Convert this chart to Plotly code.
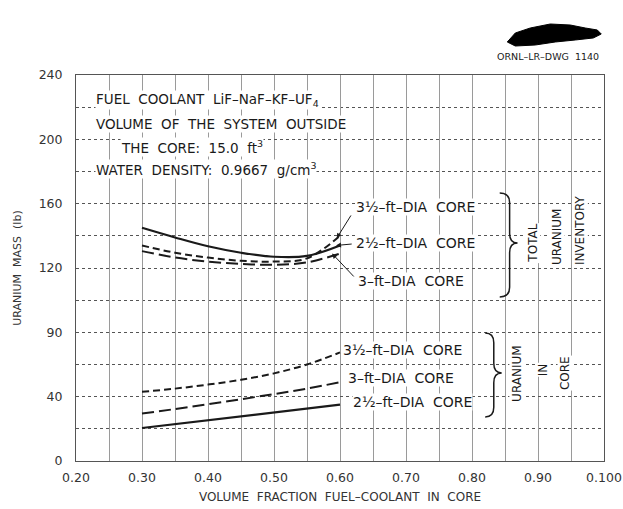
import plotly.graph_objects as go

# ---- data ----
x_total = [0.30, 0.35, 0.40, 0.45, 0.50, 0.55, 0.60]
total_2_5 = [145, 139, 133.5, 129.5, 127, 127.5, 134]
total_3_5 = [134, 129.5, 126.5, 124.5, 124, 126, 140]
total_3_0 = [130.5, 126.5, 124, 122.5, 122, 123.5, 129]

x_core = [0.30, 0.35, 0.40, 0.45, 0.50, 0.55, 0.60]
core_2_5 = [20.5, 22.9, 25.3, 27.7, 30.2, 32.6, 35]
core_3_0 = [29.5, 32.3, 35.3, 38.4, 41.6, 45, 49]
core_3_5 = [43, 45, 47.5, 50.5, 54.5, 60, 67.5]

x_tickvals = [0.2, 0.3, 0.4, 0.5, 0.6, 0.7, 0.8, 0.9, 1.0]
x_ticktext = ["0.20", "0.30", "0.40", "0.50", "0.60", "0.70", "0.80", "0.90", "0.100"]
y_tickvals = [0, 40, 80, 120, 160, 200, 240]
y_ticktext = ["0", "40", "90", "120", "160", "200", "240"]

FONT = "DejaVu Sans"
INK = "#1a1a1a"

fig = go.Figure()
line_kw = dict(mode="lines", showlegend=False, hoverinfo="skip")
fig.add_trace(go.Scatter(x=x_total, y=total_2_5, line=dict(color=INK, width=2.2, shape="spline"), **line_kw))
fig.add_trace(go.Scatter(x=x_total, y=total_3_5, line=dict(color=INK, width=2, dash="7px,4px", shape="spline"), **line_kw))
fig.add_trace(go.Scatter(x=x_total, y=total_3_0, line=dict(color=INK, width=2, dash="12px,5px", shape="spline"), **line_kw))
fig.add_trace(go.Scatter(x=x_core, y=core_2_5, line=dict(color=INK, width=2.2), **line_kw))
fig.add_trace(go.Scatter(x=x_core, y=core_3_0, line=dict(color=INK, width=2, dash="12px,5px", shape="spline"), **line_kw))
fig.add_trace(go.Scatter(x=x_core, y=core_3_5, line=dict(color=INK, width=2, dash="7px,4px", shape="spline"), **line_kw))

ann = []
def txt(x, y, s, size=14, xanchor="left", angle=0, bg="white", xref="x", yref="y"):
    ann.append(dict(x=x, y=y, xref=xref, yref=yref, text=s, showarrow=False,
                    xanchor=xanchor, yanchor="middle", textangle=angle,
                    font=dict(family=FONT, size=size, color=INK), bgcolor=bg, borderpad=0))

def arrow(tx, ty, hx, hy):
    ann.append(dict(x=hx, y=hy, ax=tx, ay=ty, xref="x", yref="y", axref="x", ayref="y",
                    text="", showarrow=True, arrowhead=2, arrowsize=1, arrowwidth=1,
                    arrowcolor=INK))

# info block
txt(0.229, 224.5, "FUEL  COOLANT  LiF\u2013NaF\u2013KF\u2013UF<sub>4</sub>", size=13.5)
txt(0.229, 209.6, "VOLUME  OF  THE  SYSTEM  OUTSIDE", size=13.5)
txt(0.375, 195.3, "THE  CORE:  15.0  ft<sup>3</sup>", size=13.5, xanchor="center")
txt(0.229, 181.6, "WATER  DENSITY:  0.9667  g/cm<sup>3</sup>", size=13.5)

# upper curve labels
txt(0.623, 158, "3\u00bd\u2013ft\u2013DIA  CORE")
txt(0.623, 135.6, "2\u00bd\u2013ft\u2013DIA  CORE")
txt(0.626, 112, "3\u2013ft\u2013DIA  CORE")
arrow(0.618, 153.6, 0.595, 138.5)
arrow(0.620, 135.0, 0.594, 134.0)
arrow(0.623, 113.8, 0.588, 129.0)

# lower curve labels
txt(0.603, 69, "3\u00bd\u2013ft\u2013DIA  CORE")
txt(0.611, 51.6, "3\u2013ft\u2013DIA  CORE")
txt(0.618, 36.7, "2\u00bd\u2013ft\u2013DIA  CORE")

# vertical group labels
txt(0.892, 135.6, "TOTAL", size=12, xanchor="center", angle=-90)
txt(0.929, 139.3, "URANIUM", size=12, xanchor="center", angle=-90)
txt(0.964, 143.7, "INVENTORY", size=12, xanchor="center", angle=-90)
txt(0.868, 54.7, "URANIUM", size=12, xanchor="center", angle=-90)
txt(0.908, 56.6, "IN", size=12, xanchor="center", angle=-90)
txt(0.941, 54.7, "CORE", size=12, xanchor="center", angle=-90)

# drawing number
txt(0.894, 1.047, "ORNL\u2013LR\u2013DWG  1140", size=9.5, xanchor="center", bg="rgba(0,0,0,0)",
    xref="paper", yref="paper")

def brace(x0, x1, xt, ytop, ymid, ybot, d):
    return (f"M {x0},{ytop} Q {x1},{ytop} {x1},{ytop-d} L {x1},{ymid+d} "
            f"Q {x1},{ymid} {xt},{ymid} Q {x1},{ymid} {x1},{ymid-d} "
            f"L {x1},{ybot+d} Q {x1},{ybot} {x0},{ybot}")

shapes = [
    dict(type="path", xref="x", yref="y", path=brace(0.842, 0.857, 0.869, 166.7, 135.5, 102, 6),
         line=dict(color=INK, width=1.5)),
    dict(type="path", xref="x", yref="y", path=brace(0.820, 0.833, 0.845, 79.6, 54.7, 27.4, 6),
         line=dict(color=INK, width=1.5)),
]
blob = [(0.8068, 1.0855), (0.8220, 1.1088), (0.8504, 1.1218), (0.8883, 1.1321), (0.9261, 1.1295),
        (0.9545, 1.1218), (0.9773, 1.1166), (0.9848, 1.1062), (0.9697, 1.0959), (0.9356, 1.0907),
        (0.8977, 1.0855), (0.8598, 1.0777), (0.8220, 1.0751)]
bp = "M " + " L ".join(f"{a+0.01},{b}" for a, b in blob) + " Z"
shapes.append(dict(type="path", xref="paper", yref="paper", path=bp, fillcolor="black",
                   line=dict(color="black", width=1)))

fig.update_layout(
    width=623, height=509,
    margin=dict(l=76, r=19, t=75, b=48),
    paper_bgcolor="white", plot_bgcolor="white",
    font=dict(family=FONT, size=12, color=INK),
    annotations=ann, shapes=shapes,
    xaxis=dict(range=[0.2, 1.0], tickvals=x_tickvals, ticktext=x_ticktext,
               showgrid=True, gridcolor="#9a9a9a", gridwidth=1,
               minor=dict(dtick=0.05, showgrid=True, gridcolor="#9a9a9a", gridwidth=1),
               showline=True, linecolor="#555", linewidth=1, mirror=True,
               ticks="", zeroline=False, ticklabelstandoff=5, automargin=False,
               tickfont=dict(family=FONT, size=12.5, color="#333"),
               title=dict(text="VOLUME  FRACTION  FUEL\u2013COOLANT  IN  CORE",
                          font=dict(family=FONT, size=12, color="#333"), standoff=8)),
    yaxis=dict(range=[0, 240], tickvals=y_tickvals, ticktext=y_ticktext,
               showgrid=True, gridcolor="#555", gridwidth=1, griddash="dot",
               minor=dict(dtick=20, showgrid=True, gridcolor="#555", gridwidth=1, griddash="dot"),
               showline=True, linecolor="#555", linewidth=1, mirror=True,
               ticks="", zeroline=False, ticklabelstandoff=10, automargin=False,
               tickfont=dict(family=FONT, size=12.5, color="#333"),
               title=dict(text="URANIUM  MASS  (lb)",
                          font=dict(family=FONT, size=11, color="#333"), standoff=14)),
)

fig.write_html("out.html")
